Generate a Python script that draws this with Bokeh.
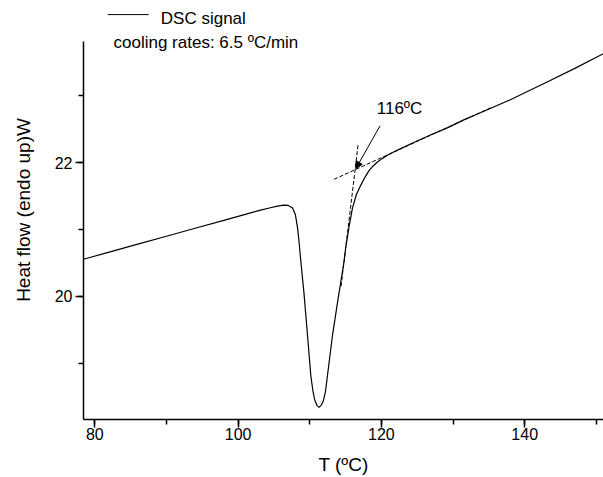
from bokeh.plotting import figure
from bokeh.models import Range1d, SingleIntervalTicker, Label, Arrow, NormalHead
from bokeh.embed import file_html
from bokeh.resources import INLINE

# DSC curve (T in degC, heat flow W)
temperature = [78.42, 82, 86, 90, 94, 98, 101, 103, 104.5, 105.5, 106.4, 107.0, 107.6,
               108.0, 108.3, 108.5, 108.75, 109.2, 109.7, 110.15, 110.45, 110.7, 111.0,
               111.3, 111.6, 111.9, 112.2, 112.5, 113.15, 113.85, 114.8, 115.02, 115.5,
               115.96, 116.5, 117.11, 117.7, 118.27, 118.85, 119.45, 120.1, 120.84, 121.7,
               122.7, 124.5, 127.0, 129.2, 131.5, 133.9, 138.0, 143.2, 147.0, 151.0]
heat_flow = [20.555, 20.661, 20.780, 20.899, 21.018, 21.137, 21.226, 21.285, 21.325, 21.35,
             21.365, 21.36, 21.32, 21.22, 21.02, 20.82, 20.53, 20.04, 19.40, 18.81, 18.58,
             18.45, 18.37, 18.34, 18.37, 18.44, 18.58, 18.84, 19.40, 19.89, 20.53, 20.73,
             21.05, 21.32, 21.52, 21.66, 21.78, 21.88, 21.95, 22.01, 22.06, 22.11, 22.16,
             22.21, 22.30, 22.42, 22.52, 22.64, 22.75, 22.94, 23.21, 23.41, 23.63]

# tangent construction lines
tangent_base_T = [113.39, 135.25]
tangent_base_V = [21.75, 22.82]
tangent_steep_T = [116.74, 114.36]
tangent_steep_V = [22.26, 20.14]

# onset annotation
onset_label = "116ºC"
onset_T, onset_V = 116.42, 21.91
onset_text_T, onset_text_V = 119.35, 22.81
arrow_start_T, arrow_start_V = 119.81, 22.55

legend_label = "DSC signal"
legend_note = "cooling rates: 6.5 ºC/min"

x_label = "T (ºC)"
y_label = "Heat flow (endo up)W"

FONT = "Liberation Sans"
Y_AXIS_TOP = 23.805

p = figure(width=603, height=477, output_backend="svg", toolbar_location=None,
           x_range=Range1d(78.42, 151.0), y_range=Range1d(18.158, 24.425),
           min_border_left=83, min_border_right=0, min_border_top=0, min_border_bottom=53)
p.outline_line_color = None
p.xgrid.visible = False
p.ygrid.visible = False
p.background_fill_color = "white"
p.border_fill_color = "white"

p.line(temperature, heat_flow, line_color="black", line_width=1.2)
p.line(tangent_base_T, tangent_base_V, line_color="black", line_width=1, line_dash="4 2")
p.line(tangent_steep_T, tangent_steep_V, line_color="black", line_width=1, line_dash="4 2")

p.add_layout(Arrow(end=NormalHead(size=7, fill_color="black", line_color="black"),
                   x_start=arrow_start_T, y_start=arrow_start_V, x_end=onset_T, y_end=onset_V,
                   line_color="black", line_width=1))
p.add_layout(Label(x=onset_text_T, y=onset_text_V, text=onset_label, text_font=FONT,
                   text_font_size="17px", text_color="black", text_baseline="alphabetic"))

# legend block
p.add_layout(Arrow(end=None, x_start=81.81, y_start=24.214, x_end=87.53, y_end=24.214,
                   line_color="black", line_width=1))
p.add_layout(Label(x=89.21, y=24.155, text=legend_label, text_font=FONT,
                   text_font_size="17px", text_color="black", text_baseline="alphabetic"))
p.add_layout(Label(x=82.61, y=23.797, text=legend_note, text_font=FONT,
                   text_font_size="17px", text_color="black", text_baseline="alphabetic"))

for ax in (p.xaxis[0], p.yaxis[0]):
    ax.axis_line_color = "black"
    ax.axis_line_width = 1.5
    ax.major_tick_line_color = "black"
    ax.minor_tick_line_color = "black"
    ax.major_tick_line_width = 1.5
    ax.minor_tick_line_width = 1.5
    ax.major_tick_in = 0
    ax.minor_tick_in = 0
    ax.major_tick_out = 8
    ax.minor_tick_out = 5
    ax.major_label_text_font = FONT
    ax.major_label_text_font_size = "16px"
    ax.major_label_text_color = "black"
    ax.axis_label_text_font = FONT
    ax.axis_label_text_font_size = "19px"
    ax.axis_label_text_font_style = "normal"
    ax.axis_label_text_color = "black"

p.xaxis[0].ticker = SingleIntervalTicker(interval=20, num_minor_ticks=2)
p.yaxis[0].ticker = SingleIntervalTicker(interval=2, num_minor_ticks=2)
p.yaxis[0].bounds = (18.158, Y_AXIS_TOP)
p.xaxis[0].axis_label = x_label
p.yaxis[0].axis_label = y_label
p.xaxis[0].major_label_standoff = 0
p.xaxis[0].axis_label_standoff = 11
p.yaxis[0].major_label_standoff = 3
p.yaxis[0].axis_label_standoff = 18

open("out.html", "w").write(file_html(p, INLINE))
